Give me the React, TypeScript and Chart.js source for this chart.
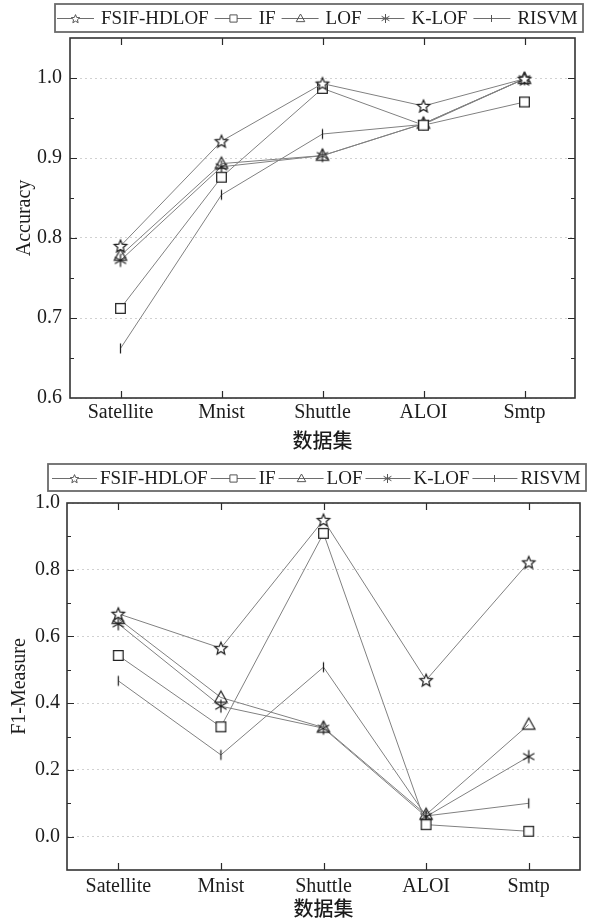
import React, { useEffect, useRef } from 'react';
import { Chart, registerables } from 'chart.js';

Chart.register(...registerables);

// ---------- data ----------
const categories = ['Satellite', 'Mnist', 'Shuttle', 'ALOI', 'Smtp'];
const seriesNames = ['FSIF-HDLOF', 'IF', 'LOF', 'K-LOF', 'RISVM'];
const markerKinds = ['star5', 'square', 'triangle', 'asterisk', 'bar'];

const accFSIF = [0.790, 0.921, 0.993, 0.965, 0.999];
const accIF = [0.712, 0.876, 0.987, 0.941, 0.970];
const accLOF = [0.778, 0.893, 0.903, 0.943, 0.999];
const accKLOF = [0.772, 0.889, 0.903, 0.943, 0.999];
const accRISVM = [0.662, 0.854, 0.930, 0.942, 0.999];

const f1FSIF = [0.668, 0.565, 0.949, 0.469, 0.822];
const f1IF = [0.543, 0.329, 0.909, 0.036, 0.016];
const f1LOF = [0.653, 0.417, 0.327, 0.066, 0.336];
const f1KLOF = [0.638, 0.391, 0.325, 0.060, 0.240];
const f1RISVM = [0.467, 0.245, 0.508, 0.062, 0.100];

const accTicks = [0.6, 0.7, 0.8, 0.9, 1.0];
const f1Ticks = [0.0, 0.2, 0.4, 0.6, 0.8, 1.0];

const xTitle = '数据集';
const accTitle = 'Accuracy';
const f1Title = 'F1-Measure';

// ---------- styles ----------
const SERIF = '"Liberation Serif", "Times New Roman", serif';
const CJK = '"Noto Sans CJK SC", "Liberation Serif", sans-serif';
const TEXT = '#1c1c1c';
const LINE = '#808080';
const MARK = '#222222';
const AXIS_FONT = 20;

function makeMarker(kind: string, s: number, color: string, lw: number): HTMLCanvasElement {
  const c = document.createElement('canvas');
  const size = Math.ceil(s + lw * 2 + 2);
  c.width = size;
  c.height = size;
  const g = c.getContext('2d') as CanvasRenderingContext2D;
  const cx = size / 2;
  const cy = size / 2;
  const r = s / 2;
  g.strokeStyle = color;
  g.fillStyle = '#ffffff';
  g.lineWidth = lw;
  g.beginPath();
  if (kind === 'star5') {
    for (let i = 0; i < 10; i++) {
      const ang = -Math.PI / 2 + (i * Math.PI) / 5;
      const rad = i % 2 === 0 ? r : r * 0.45;
      const px = cx + rad * Math.cos(ang);
      const py = cy + 0.6 + rad * Math.sin(ang);
      if (i === 0) g.moveTo(px, py);
      else g.lineTo(px, py);
    }
    g.closePath();
    g.fill();
    g.stroke();
  } else if (kind === 'square') {
    const h = r * 0.8;
    g.rect(cx - h, cy - h, 2 * h, 2 * h);
    g.fill();
    g.stroke();
  } else if (kind === 'triangle') {
    g.moveTo(cx, cy - r);
    g.lineTo(cx + r * 0.95, cy + r * 0.7);
    g.lineTo(cx - r * 0.95, cy + r * 0.7);
    g.closePath();
    g.stroke();
  } else if (kind === 'asterisk') {
    [90, 30, 150].forEach((d) => {
      const a = (d * Math.PI) / 180;
      g.moveTo(cx - r * Math.cos(a), cy - r * Math.sin(a));
      g.lineTo(cx + r * Math.cos(a), cy + r * Math.sin(a));
    });
    g.stroke();
  } else if (kind === 'bar') {
    g.moveTo(cx, cy - r);
    g.lineTo(cx, cy + r);
    g.stroke();
  }
  return c;
}

const framePlugin = {
  id: 'frame',
  afterDraw(chart: any, _args: any, opts: any) {
    const { ctx, chartArea: a } = chart;
    const xs = chart.scales.x;
    const ys = chart.scales.y;
    ctx.save();
    // inward ticks
    ctx.strokeStyle = '#2a2a2a';
    ctx.lineWidth = 1.2;
    ctx.beginPath();
    const nCat = chart.data.labels.length;
    for (let i = 0; i < nCat; i++) {
      const px = Math.round(xs.getPixelForValue(i)) + 0.5;
      ctx.moveTo(px, a.bottom);
      ctx.lineTo(px, a.bottom - 7);
      ctx.moveTo(px, a.top);
      ctx.lineTo(px, a.top + 7);
    }
    const ticks = opts.ticks as number[];
    const step = ticks[1] - ticks[0];
    const eps = 1e-9;
    for (let k = -4; k <= ticks.length * 2 + 4; k++) {
      const v = ticks[0] + (k * step) / 2;
      if (v <= ys.min + eps || v >= ys.max - eps) continue;
      const major = k % 2 === 0;
      const len = major ? 7 : 4;
      const py = Math.round(ys.getPixelForValue(v)) + 0.5;
      ctx.moveTo(a.left, py);
      ctx.lineTo(a.left + len, py);
      ctx.moveTo(a.right, py);
      ctx.lineTo(a.right - len, py);
    }
    ctx.stroke();
    // frame
    ctx.lineWidth = 1.6;
    ctx.strokeStyle = '#333333';
    ctx.strokeRect(a.left, a.top, a.right - a.left, a.bottom - a.top);
    // legend
    const L = opts.legend;
    ctx.strokeStyle = '#6a6a6a';
    ctx.lineWidth = 1.8;
    ctx.strokeRect(L.left, L.top, L.right - L.left, L.bottom - L.top);
    const cy = Math.round((L.top + L.bottom) / 2);
    let x = L.start;
    ctx.font = `19px ${SERIF}`;
    ctx.textBaseline = 'middle';
    ctx.textAlign = 'left';
    chart.data.datasets.forEach((ds: any) => {
      ctx.strokeStyle = '#6e6e6e';
      ctx.lineWidth = 1;
      ctx.beginPath();
      ctx.moveTo(x, cy + 0.5);
      ctx.lineTo(x + L.lineLen, cy + 0.5);
      ctx.stroke();
      const m = ds.legendMarker as HTMLCanvasElement;
      ctx.drawImage(m, Math.round(x + L.lineLen / 2 - m.width / 2), Math.round(cy + 0.5 - m.height / 2));
      x += L.lineLen + L.gap1;
      ctx.fillStyle = TEXT;
      ctx.fillText(ds.label, x, cy + 1);
      x += ctx.measureText(ds.label).width + L.gap2;
    });
    ctx.restore();
  },
};

function buildDatasets(series: number[][]) {
  return series.map((data, i) => ({
    label: seriesNames[i],
    data,
    borderColor: LINE,
    borderWidth: 1,
    backgroundColor: '#ffffff',
    pointStyle: makeMarker(markerKinds[i], markerKinds[i] === 'bar' ? 10 : markerKinds[i] === 'square' ? 12 : 13, MARK, 1.25),
    legendMarker: makeMarker(markerKinds[i], markerKinds[i] === 'bar' ? 7 : 9, '#555555', 1),
    pointRadius: 6,
    pointHoverRadius: 6,
    fill: false,
    tension: 0,
  }));
}

function makeConfig(p: {
  series: number[][];
  ticks: number[];
  min: number;
  max: number;
  yTitle: string;
  padTop: number;
  padRight: number;
  yWidth: number;
  xHeight: number;
  xTickPad: number;
  xTitlePad: number;
  yTickPad: number;
  yTitlePad: number;
  legend: any;
}): any {
  return {
    type: 'line',
    data: { labels: categories, datasets: buildDatasets(p.series) },
    plugins: [framePlugin],
    options: {
      responsive: false,
      maintainAspectRatio: false,
      animation: false,
      events: [],
      layout: { padding: { top: p.padTop, right: p.padRight, left: 0, bottom: 0 } },
      plugins: {
        legend: { display: false },
        tooltip: { enabled: false },
        frame: { ticks: p.ticks, legend: p.legend },
      },
      scales: {
        x: {
          type: 'category',
          offset: true,
          grid: { display: false, drawTicks: false },
          border: { display: false },
          ticks: {
            font: { family: SERIF, size: AXIS_FONT, lineHeight: 1 },
            color: TEXT,
            padding: p.xTickPad,
            maxRotation: 0,
            autoSkip: false,
          },
          title: {
            display: true,
            text: xTitle,
            font: { family: CJK, size: AXIS_FONT, lineHeight: 1, weight: '500' },
            color: TEXT,
            padding: { top: 0, bottom: p.xTitlePad },
          },
          afterFit: (s: any) => {
            s.height = p.xHeight;
          },
        },
        y: {
          type: 'linear',
          min: p.min,
          max: p.max,
          afterBuildTicks: (s: any) => {
            s.ticks = p.ticks.map((v) => ({ value: v }));
          },
          grid: { color: 'rgba(0,0,0,0.18)', lineWidth: 1, drawTicks: false },
          border: { display: false, dash: [2, 3] },
          ticks: {
            font: { family: SERIF, size: AXIS_FONT, lineHeight: 1 },
            color: TEXT,
            padding: p.yTickPad,
            callback: (v: any) => Number(v).toFixed(1),
          },
          title: {
            display: true,
            text: p.yTitle,
            font: { family: SERIF, size: AXIS_FONT, lineHeight: 1 },
            color: TEXT,
            padding: { top: p.yTitlePad, bottom: 0 },
          },
          afterFit: (s: any) => {
            s.width = p.yWidth;
          },
        },
      },
    },
  };
}

export default function App() {
  const topRef = useRef<HTMLCanvasElement | null>(null);
  const botRef = useRef<HTMLCanvasElement | null>(null);

  useEffect(() => {
    const top = new Chart(
      topRef.current as HTMLCanvasElement,
      makeConfig({
        series: [accFSIF, accIF, accLOF, accKLOF, accRISVM],
        ticks: accTicks,
        min: 0.6,
        max: 1.05,
        yTitle: accTitle,
        padTop: 38,
        padRight: 23,
        yWidth: 70,
        xHeight: 52,
        xTickPad: 5,
        xTitlePad: 0,
        yTickPad: 8,
        yTitlePad: 15,
        legend: { left: 55, top: 4, right: 583, bottom: 32, start: 57, lineLen: 37, gap1: 7, gap2: 6 },
      })
    );
    const bot = new Chart(
      botRef.current as HTMLCanvasElement,
      makeConfig({
        series: [f1FSIF, f1IF, f1LOF, f1KLOF, f1RISVM],
        ticks: f1Ticks,
        min: -0.1,
        max: 1.0,
        yTitle: f1Title,
        padTop: 53,
        padRight: 18,
        yWidth: 67,
        xHeight: 50,
        xTickPad: 7,
        xTitlePad: 2,
        yTickPad: 7,
        yTitlePad: 10,
        legend: { left: 48, top: 14, right: 586, bottom: 41, start: 52, lineLen: 45, gap1: 3, gap2: 3 },
      })
    );
    return () => {
      top.destroy();
      bot.destroy();
    };
  }, []);

  return (
    <div style={{ position: 'absolute', left: 0, top: 0, width: 598, height: 920, background: '#ffffff' }}>
      <canvas ref={topRef} width={598} height={450} style={{ position: 'absolute', left: 0, top: 0, width: 598, height: 450 }} />
      <canvas ref={botRef} width={598} height={470} style={{ position: 'absolute', left: 0, top: 450, width: 598, height: 470 }} />
    </div>
  );
}
